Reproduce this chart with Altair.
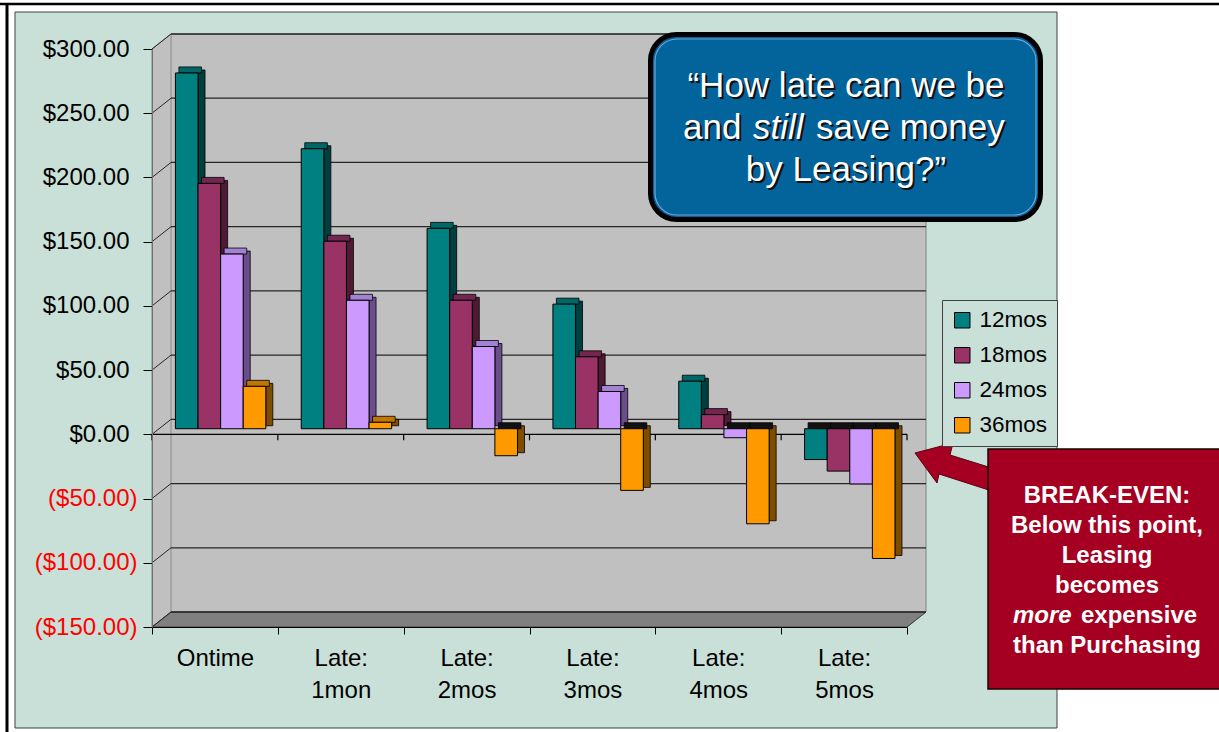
import altair as alt
import pandas as pd

# ---------------- data ----------------
categories = ["Ontime", "Late: 1mon", "Late: 2mos", "Late: 3mos", "Late: 4mos", "Late: 5mos"]
series = ["12mos", "18mos", "24mos", "36mos"]
v12 = [277, 218, 156, 97, 37, -24]
v18 = [191, 146, 100, 56, 11, -33]
v24 = [136, 100, 64, 29, -7, -43]
v36 = [33, 5, -21, -48, -74, -101]
grid_vals = [-150, -100, -50, 0, 50, 100, 150, 200, 250, 300]

front_colors = ["#008080", "#993366", "#CC99FF", "#FF9900"]
top_colors = ["#006666", "#732650", "#A382D6", "#C07600"]
side_colors = ["#003F3F", "#4F1A36", "#6A4E8C", "#7F4D00"]

values = [v12, v18, v24, v36]
rows = []
for s, vals in zip(series, values):
    for c, v in zip(categories, vals):
        rows.append({"cat": c, "series": s, "v": v})
df = pd.DataFrame(rows)
one = pd.DataFrame({"k": [0]})
grid_df = pd.DataFrame({"g": grid_vals})
cat_df = pd.DataFrame({"cat": categories})

W, H = 755, 578
FONT = "Liberation Sans"
yscale = alt.Scale(domain=[-150, 300], nice=False, zero=False)
xscale = alt.Scale(domain=categories, paddingInner=0, paddingOuter=0)

BAR_W = 22.6
offsets = [-28.2, -5.6, 17.0, 39.6]
DY = -5.6

x_axis = alt.Axis(title=None, labelExpr="split(datum.label, ' ')", labelFontSize=24, labelFont=FONT,
                  labelColor="black", labelLineHeight=32, labelBaseline="alphabetic", labelPadding=31,
                  tickBand="extent", tickSize=7, tickColor="black", domainColor="black",
                  grid=False, labelAngle=0, zindex=1)
y_axis = alt.Axis(title=None, values=grid_vals, grid=False, labelFontSize=24, labelFont=FONT,
                  labelExpr="datum.value < 0 ? '($' + format(-datum.value, ',.2f') + ')' : '$' + format(datum.value, ',.2f')",
                  labelColor={"condition": {"test": "datum.value < 0", "value": "red"}, "value": "black"},
                  labelPadding={"condition": {"test": "datum.value < 0", "value": 6}, "value": 14},
                  tickSize=9, tickColor="black", domainColor="#707070", zindex=1)

layers = []

# background panel and frame
layers.append(alt.Chart(one).mark_rect(fill="#C9E0D8", stroke="#404040", strokeWidth=1).encode(
    x=alt.value(-137), x2=alt.value(905), y=alt.value(-37), y2=alt.value(679)))
layers.append(alt.Chart(one).mark_rule(color="black", strokeWidth=2.5).encode(
    x=alt.value(-152), x2=alt.value(1067), y=alt.value(-45)))
layers.append(alt.Chart(one).mark_rule(color="black", strokeWidth=3).encode(
    x=alt.value(-145), y=alt.value(-45), y2=alt.value(683)))

# 3D walls
gray_path = "M0,0 L19,-15 L774,-15 L774,563 L755,578 L0,578 Z"
floor_path = "M0,578 L19,563 L774,563 L755,578 Z"
layers.append(alt.Chart(one).mark_point(shape=gray_path, size=4, filled=True, fill="#C0C0C0",
                                        stroke="#808080", strokeWidth=1, opacity=1).encode(
    x=alt.value(0), y=alt.value(0)))
layers.append(alt.Chart(one).mark_point(shape=floor_path, size=4, filled=True, fill="#808080",
                                        stroke="#404040", strokeWidth=1, opacity=1).encode(
    x=alt.value(0), y=alt.value(0)))
layers.append(alt.Chart(one).mark_rule(color="#8a8a8a", strokeWidth=1).encode(
    x=alt.value(19), y=alt.value(-15), y2=alt.value(563)))

# gridlines on back wall
layers.append(alt.Chart(grid_df).mark_rule(color="#262626", strokeWidth=1.3, yOffset=-15).encode(
    y=alt.Y("g:Q", scale=yscale, axis=y_axis), x=alt.value(19), x2=alt.value(774)))
# diagonals on left wall
layers.append(alt.Chart(grid_df).mark_rule(color="#262626", strokeWidth=1, y2Offset=-15).encode(
    y=alt.Y("g:Q", scale=yscale, axis=y_axis), y2="g:Q", x=alt.value(0), x2=alt.value(19)))

# zero line (category axis crossing) with boundary ticks
layers.append(alt.Chart(one).mark_rule(color="black", strokeWidth=1.2).encode(
    y=alt.YDatum(0, scale=yscale, axis=y_axis), x=alt.value(0), x2=alt.value(W)))
layers.append(alt.Chart(cat_df).mark_rule(color="black", strokeWidth=1.2, y2Offset=6).encode(
    x=alt.X("cat:N", bandPosition=0, scale=xscale, axis=x_axis),
    y=alt.YDatum(0, scale=yscale, axis=y_axis), y2=alt.Y2Datum(0)))
layers.append(alt.Chart(one).mark_rule(color="black", strokeWidth=1.2, y2Offset=6).encode(
    x=alt.value(W), y=alt.YDatum(0, scale=yscale, axis=y_axis), y2=alt.Y2Datum(0)))

base = alt.Chart(df).transform_calculate(hi="max(datum.v, 0)", lo="min(datum.v, 0)")
for i, s in enumerate(series):
    b = base.transform_filter(alt.datum.series == s)
    off = offsets[i]
    # side face
    layers.append(b.mark_bar(width=7, xOffset=off + BAR_W / 2 + 3.5, yOffset=DY - 3, y2Offset=DY - 3,
                             stroke="black", strokeWidth=0.8).encode(
        x=alt.X("cat:N", scale=xscale, axis=x_axis),
        y=alt.Y("hi:Q", scale=yscale, axis=y_axis), y2="lo:Q",
        color=alt.value(side_colors[i])))
    # top face
    layers.append(b.mark_bar(width=BAR_W, xOffset=off + 3.5, yOffset=DY - 6, y2Offset=DY,
                             stroke="black", strokeWidth=0.8).encode(
        x=alt.X("cat:N", scale=xscale, axis=x_axis),
        y=alt.Y("hi:Q", scale=yscale, axis=y_axis), y2="hi:Q",
        color=alt.condition("datum.v < 0", alt.value("#111111"), alt.value(top_colors[i]))))
    # front face
    layers.append(b.mark_bar(width=BAR_W, xOffset=off, yOffset=DY, y2Offset=DY,
                             stroke="black", strokeWidth=1).encode(
        x=alt.X("cat:N", scale=xscale, axis=x_axis),
        y=alt.Y("hi:Q", scale=yscale, axis=y_axis), y2="lo:Q",
        color=alt.Color("series:N", scale=alt.Scale(domain=series, range=front_colors),
                        legend=alt.Legend(title=None, orient="none", legendX=790, legendY=251,
                                          symbolType="square", symbolSize=240, symbolStrokeColor="black",
                                          symbolStrokeWidth=1, labelFontSize=22.5, labelFont=FONT,
                                          labelColor="black", labelOffset=6, rowPadding=12, padding=9,
                                          fillColor="#C9E0D8", strokeColor="#404040"))))

# callout box
layers.append(alt.Chart(one).mark_rect(fill="#03639B", stroke="black", strokeWidth=5, cornerRadius=26).encode(
    x=alt.value(498.5), x2=alt.value(888.5), y=alt.value(-14.5), y2=alt.value(170.5)))
layers.append(alt.Chart(one).mark_rect(fill="#03639B", fillOpacity=0, stroke="#6FA6D6", strokeWidth=1.2,
                                       cornerRadius=22).encode(
    x=alt.value(503), x2=alt.value(884), y=alt.value(-10), y2=alt.value(166)))


def txt(t, x, y, size, color, align="center", weight="normal", style="normal"):
    return alt.Chart(one).mark_text(text=t, fontSize=size, color=color, align=align, fontWeight=weight,
                                    fontStyle=style, baseline="alphabetic", font=FONT).encode(
        x=alt.value(x), y=alt.value(y))


callout = [
    ("\u201cHow late can we be", 694, 48, "center", "normal"),
    ("and", 531, 90, "left", "normal"),
    ("still", 601, 90, "left", "italic"),
    ("save money", 664, 90, "left", "normal"),
    ("by Leasing?\u201d", 694, 132, "center", "normal"),
]
for t, x, y, a, st in callout:
    layers.append(txt(t, x + 2, y + 2, 35, "#101010", a, "normal", st))
for t, x, y, a, st in callout:
    layers.append(txt(t, x, y, 35, "white", a, "normal", st))

# arrow and break-even box
arrow_path = "M-35,-12 L3,-22 L0,-10 L45,4 L45,27 L-11,9 L-13,18 Z"
layers.append(alt.Chart(one).mark_point(shape=arrow_path, size=4, filled=True, fill="#A50021",
                                        stroke="#5A0012", strokeWidth=1, opacity=1).encode(
    x=alt.value(798), y=alt.value(416)))
layers.append(alt.Chart(one).mark_rect(fill="#A50021", stroke="#1A0000", strokeWidth=1.5).encode(
    x=alt.value(836), x2=alt.value(1073), y=alt.value(400), y2=alt.value(640)))

be_lines = [("BREAK-EVEN:", 454), ("Below this point,", 484), ("Leasing", 514), ("becomes", 544),
            ("than Purchasing", 604)]
for t, y in be_lines:
    layers.append(txt(t, 955, y, 24, "white", "center", "bold"))
layers.append(txt("more", 861, 574, 24, "white", "left", "bold", "italic"))
layers.append(txt("expensive", 929, 574, 24, "white", "left", "bold"))

chart = alt.layer(*layers).properties(
    width=W, height=H,
    padding={"left": 152, "top": 49, "right": 1219 - 152 - W, "bottom": 732 - 49 - H},
    autosize=alt.AutoSizeParams(type="none"),
    background="white",
).configure_view(stroke=None).configure(font=FONT)

chart.save("out.html", embed_options={"renderer": "svg", "actions": False})
